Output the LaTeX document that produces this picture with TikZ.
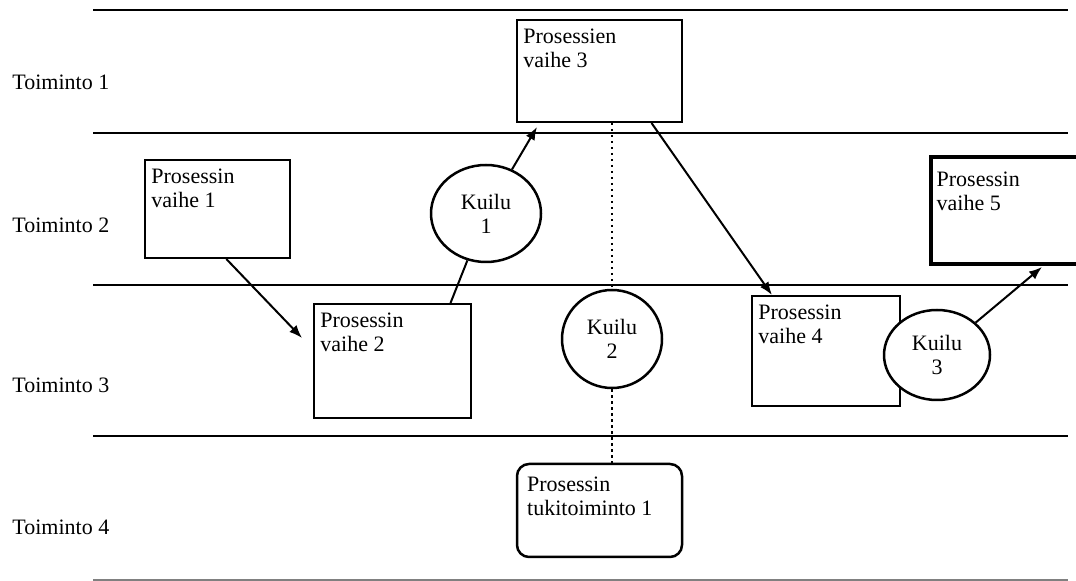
\documentclass[tikz,border=0pt]{standalone}
\usepackage{fontspec}
\setmainfont{Liberation Serif}
\usetikzlibrary{arrows.meta,calc,shapes.geometric}

\begin{document}
\begin{tikzpicture}[x=0.5pt,y=-0.5pt,>={Latex[length=6.5pt,width=5pt]},
    font=\fontsize{11}{12}\selectfont,
    lane/.style={line width=1.25pt},
    lanelabel/.style={anchor=west,inner sep=0pt},
    procbox/.style={draw,line width=1pt,fill=white},
    boxtext/.style={anchor=north west,align=left,inner xsep=3.5pt,inner ysep=5pt},
    gap/.style={draw,ellipse,line width=1.25pt,fill=white,align=center,inner sep=0pt},
    flow/.style={->,line width=1pt},
    link/.style={line width=1.2pt,dash pattern=on 1.2pt off 1.8pt}]
  \useasboundingbox (0,0) rectangle (1076,581);
  % swimlanes
  \foreach \y in {10,133,285,436}
    \draw[lane] (93,\y) -- (1068,\y);
  \draw[gray,line width=0.6pt] (93,580) -- (1068,580);
  \node[lanelabel] (t1) at (12,82) {Toiminto 1};
  \node[lanelabel] (t2) at (12,225) {Toiminto 2};
  \node[lanelabel] (t3) at (12,385) {Toiminto 3};
  \node[lanelabel] (t4) at (12,527) {Toiminto 4};
  % process steps
  \node[procbox,minimum width=72.5pt,minimum height=49pt,label={[boxtext]north west:Prosessin\\vaihe 1}] (p1) at (217.5,209) {};
  \node[procbox,minimum width=78.5pt,minimum height=57pt,label={[boxtext]north west:Prosessin\\vaihe 2}] (p2) at (392.5,361) {};
  \node[procbox,minimum width=82.5pt,minimum height=51pt,label={[boxtext]north west:Prosessien\\vaihe 3}] (p3) at (599.5,71) {};
  \node[procbox,minimum width=74pt,minimum height=55pt,label={[boxtext]north west:Prosessin\\vaihe 4}] (p4) at (826,351) {};
  \node[procbox,line width=1.75pt,minimum width=73.5pt,minimum height=53.5pt,label={[boxtext,yshift=-3pt]north west:Prosessin\\vaihe 5}] (p5) at (1004.5,210.5) {};
  \node[procbox,line width=1.25pt,rounded corners=6pt,minimum width=82.5pt,minimum height=46.5pt,label={[boxtext,xshift=2pt,yshift=-2pt]north west:Prosessin\\tukitoiminto 1}] (tuki) at (599.5,510.5) {};
  % gaps
  \node[gap,minimum width=55pt,minimum height=48.5pt] (k1) at (486,213.5) {Kuilu\\1};
  \node[gap,minimum width=50pt,minimum height=49pt] (k2) at (612,339) {Kuilu\\2};
  \node[gap,minimum width=53pt,minimum height=45pt] (k3) at (937,355) {Kuilu\\3};
  \coordinate (e2) at (302,338);
  \coordinate (e3) at (537,127);
  \coordinate (e5) at (1042,267);
  % flows
  \draw[flow] (p1.-80) -- (e2);
  \draw[flow] (p2.45) -- (k1) -- (e3);
  \draw[flow] (p3.-45) -- (p4.134);
  \draw[flow] (k3) -- (e5);
  \draw[link] (p3.south -| k2) -- (k2) -- (tuki.north -| k2);
\end{tikzpicture}
\end{document}
